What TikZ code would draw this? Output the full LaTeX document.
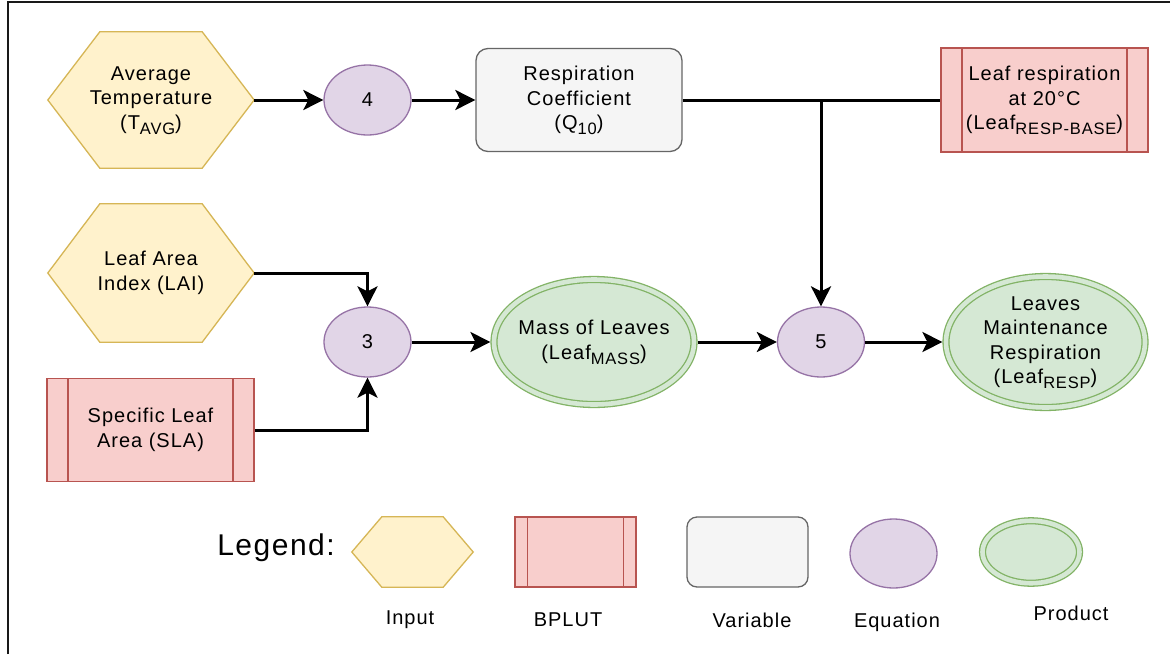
\documentclass[tikz,border=0pt]{standalone}
\usepackage{fontspec}
\setmainfont[LetterSpace=5]{Liberation Sans}
\usetikzlibrary{shapes.geometric,arrows.meta,backgrounds}

\definecolor{inF}{HTML}{FFF2CC}\definecolor{inS}{HTML}{D6B656}
\definecolor{bpF}{HTML}{F8CECC}\definecolor{bpS}{HTML}{B85450}
\definecolor{vaF}{HTML}{F5F5F5}\definecolor{vaS}{HTML}{666666}
\definecolor{eqF}{HTML}{E1D5E7}\definecolor{eqS}{HTML}{9673A6}
\definecolor{prF}{HTML}{D5E8D4}\definecolor{prS}{HTML}{82B366}

% lowered subscript as used in the variable names (kept out of the line spacing)
\newcommand\lowsub[1]{\raisebox{-5pt}[0pt][0pt]{\fontsize{16.5}{16.5}\selectfont #1}}

% hexagon drawn behind a (transparent) rectangular node
\newcommand\hexshape[2]{%
  \begin{pgfonlayer}{background}
    \filldraw[inputshape] (#1.west) -- ([xshift=#2]#1.north west)
      -- ([xshift=-#2]#1.north east) -- (#1.east)
      -- ([xshift=-#2]#1.south east) -- ([xshift=#2]#1.south west) -- cycle;
  \end{pgfonlayer}}

\tikzset{
  txtstyle/.style={font=\fontsize{20}{24.5}\selectfont, align=center, inner sep=0pt, text=black},
  inputbox/.style={txtstyle, rectangle},
  inputshape/.style={fill=inF, draw=inS, line width=1.3pt, line join=miter},
  bplutbox/.style={txtstyle, rectangle, draw=bpS, fill=bpF, line width=1.3pt,
    path picture={\draw[bpS, line width=1.3pt]
      ([xshift=#1]path picture bounding box.north west) -- ([xshift=#1]path picture bounding box.south west)
      ([xshift=-#1]path picture bounding box.north east) -- ([xshift=-#1]path picture bounding box.south east);}},
  bplutbox/.default=21pt,
  varbox/.style={txtstyle, rectangle, rounded corners=12pt, draw=vaS, fill=vaF, line width=1.3pt},
  eqnode/.style={txtstyle, ellipse, draw=eqS, fill=eqF, line width=1.3pt, minimum width=87pt, minimum height=70pt},
  prodnode/.style={txtstyle, ellipse, draw=prS, line width=1.3pt, double=prF, double distance=4.6pt,
    fill=prF, outer sep=3.6pt, inner xsep=-10pt, inner ysep=-8pt},
  arr/.style={line width=3pt, -{Stealth[length=20pt, width=20pt, inset=5pt]}},
  linkline/.style={line width=3pt},
  legendlabel/.style={txtstyle},
}

\begin{document}
\begin{tikzpicture}[x=1pt, y=-1pt]
\useasboundingbox (0,0) rectangle (1170,654);
\begin{pgfonlayer}{background}
  \fill[white] (0,0) rectangle (1170,654);
\end{pgfonlayer}

% frame edges
\draw[line width=2.5pt, black!90] (8,654) -- (8,2) -- (1170,2);

% ---- inputs and look-up values ----
\node[inputbox, minimum width=206pt, minimum height=136pt] (avg) at (151,100) {Average\\Temperature\\(T\lowsub{AVG})};
\hexshape{avg}{52pt}
\node[inputbox, minimum width=206pt, minimum height=138pt] (lai) at (151,273) {Leaf Area\\Index (LAI)};
\hexshape{lai}{52pt}
\node[bplutbox, minimum width=207pt, minimum height=103pt] (sla) at (150.5,430) {Specific Leaf\\Area (SLA)};
\node[bplutbox, minimum width=207pt, minimum height=104pt] (lrb) at (1044.5,100) {Leaf respiration\\at 20°C\\(Leaf\lowsub{RESP-BASE})};

% ---- variables and equations ----
\node[eqnode] (e4) at (367.5,100) {4};
\node[varbox, minimum width=206pt, minimum height=103pt] (rc) at (579,100) {Respiration\\Coefficient\\(Q\lowsub{10})};
\node[eqnode] (e3) at (367.5,342) {3};
\node[eqnode] (e5) at (821,342) {5};

% ---- products ----
\node[prodnode, minimum width=200pt, minimum height=125pt] (mass) at (594,342) {Mass of Leaves\\(Leaf\lowsub{MASS})};
\node[prodnode, minimum width=199pt, minimum height=131pt] (lmr) at (1045.5,342) {Leaves\\Maintenance\\Respiration\\(Leaf\lowsub{RESP})};

% ---- connectors ----
\draw[arr] (avg.east) -- (e4.west);
\draw[arr] (e4.east) -- (rc.west);
\draw[linkline] (rc.east) -- (lrb.west);
\coordinate (junc) at (e5.north |- rc.east);
\draw[arr] (junc) -- (e5.north);
\draw[arr] (lai.east) -| (e3.north);
\draw[arr] (sla.east) -| (e3.south);
\draw[arr] (e3.east) -- (mass.west);
\draw[arr] (mass.east) -- (e5.west);
\draw[arr] (e5.east) -- (lmr.west);

% ---- legend ----
\node[txtstyle, font=\fontsize{30}{30}\selectfont] (legtitle) at (276,548) {Legend:};
\node[inputbox, minimum width=121pt, minimum height=70pt] (leginput) at (412.5,552) {};
\hexshape{leginput}{30pt}
\node[bplutbox=12.5pt, minimum width=121pt, minimum height=70pt] (legbplut) at (575.5,552) {};
\node[varbox, rounded corners=10pt, minimum width=121pt, minimum height=70pt] (legvar) at (747.5,552) {};
\node[eqnode, minimum width=87pt, minimum height=69pt] (legeq) at (893.5,553.5) {};
\node[prodnode, minimum width=97pt, minimum height=62.5pt] (legprod) at (1031,552) {};

\node[legendlabel] (labinput) at (410,620) {Input};
\node[legendlabel] (labbplut) at (568,620) {BPLUT};
\node[legendlabel] (labvar) at (752,620) {Variable};
\node[legendlabel] (labeq) at (897,622) {Equation};
\node[legendlabel] (labprod) at (1071,613) {Product};
\end{tikzpicture}
\end{document}
